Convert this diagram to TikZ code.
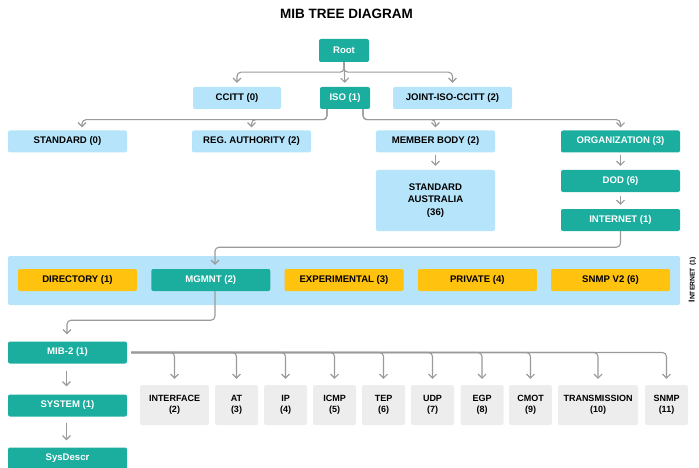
\documentclass[tikz,border=0pt]{standalone}
\usepackage{fontspec}
\setmainfont{Liberation Sans}
\usetikzlibrary{arrows.meta}
\definecolor{teal1}{HTML}{1BAE9F}
\definecolor{sky1}{HTML}{B6E5FB}
\definecolor{amber1}{HTML}{FFC20E}
\definecolor{gray1}{HTML}{EDEDED}
\definecolor{wire}{HTML}{9A9A9A}
\tikzset{
  box/.style={rectangle, rounded corners=2pt, inner sep=0pt, align=center,
    font=\bfseries\fontsize{9.6}{12.5}\selectfont},
  tealbox/.style={box, fill=teal1, text=white},
  skybox/.style={box, fill=sky1, text=black},
  amberbox/.style={box, fill=amber1, text=black, minimum width=119pt, minimum height=22pt},
  leafbox/.style={box, fill=gray1, text=black, minimum height=40pt,
    font=\bfseries\fontsize{9}{11.5}\selectfont},
  wide/.style={minimum width=119pt, minimum height=22pt},
  link/.style={draw=wire, line width=1.1pt, rounded corners=4pt,
    -{Straight Barb[length=4pt,width=8pt,line width=1.1pt]}, shorten >=4pt}
}
\begin{document}
\begin{tikzpicture}[x=1pt,y=-1pt]
\useasboundingbox (0,0) rectangle (699,468);

% title
\node[font=\bfseries\fontsize{13.5}{16}\selectfont] (title) at (346.5,13.5) {MIB TREE DIAGRAM};

% top levels
\node[tealbox, minimum width=50pt, minimum height=23pt] (root) at (344,50.5) {Root};
\node[skybox, minimum width=88pt, minimum height=22pt] (ccitt) at (237,98) {CCITT (0)};
\node[tealbox, minimum width=50pt, minimum height=22pt] (iso) at (345,98) {ISO (1)};
\node[skybox, minimum width=119pt, minimum height=22pt] (joint) at (452.5,98) {JOINT-ISO-CCITT (2)};

\node[skybox, wide] (standard) at (67.5,141.5) {STANDARD (0)};
\node[skybox, wide] (reg) at (251.5,141.5) {REG. AUTHORITY (2)};
\node[skybox, wide] (member) at (435.5,141.5) {MEMBER BODY (2)};
\node[tealbox, wide] (org) at (620.5,141.5) {ORGANIZATION (3)};

\node[skybox, minimum width=119pt, minimum height=61pt] (sa) at (435.5,200.5) {STANDARD\\AUSTRALIA\\(36)};
\node[tealbox, wide] (dod) at (620.5,181) {DOD (6)};
\node[tealbox, wide] (internet) at (620.5,220) {INTERNET (1)};

% internet subtree band
\node[fill=sky1, rounded corners=2pt, minimum width=672pt, minimum height=49pt, inner sep=0pt] (band) at (344,280.5) {};
\node[amberbox] (directory) at (77.5,280) {DIRECTORY (1)};
\node[tealbox, wide] (mgmnt) at (210.8,280) {MGMNT (2)};
\node[amberbox] (experimental) at (344,280) {EXPERIMENTAL (3)};
\node[amberbox] (private) at (477.3,280) {PRIVATE (4)};
\node[amberbox] (snmpv2) at (610.5,280) {SNMP V2 (6)};
\node[rotate=90, font=\bfseries, inner sep=0pt] (bandlabel) at (692.5,280)
  {{\fontsize{8.5}{8}\selectfont I}{\fontsize{6.8}{8}\selectfont NTERNET (1)}};

% mib-2 subtree
\node[tealbox, wide] (mib) at (67.5,352.5) {MIB-2 (1)};
\node[tealbox, wide] (system) at (67.5,405.5) {SYSTEM (1)};
\node[tealbox, wide] (sysdescr) at (67.5,458.5) {SysDescr};

\node[leafbox, minimum width=69pt] (interface) at (174.5,405) {INTERFACE\\(2)};
\node[leafbox, minimum width=43pt] (at) at (236.5,405) {AT\\(3)};
\node[leafbox, minimum width=43pt] (ip) at (285.5,405) {IP\\(4)};
\node[leafbox, minimum width=43pt] (icmp) at (334.5,405) {ICMP\\(5)};
\node[leafbox, minimum width=43pt] (tep) at (383.5,405) {TEP\\(6)};
\node[leafbox, minimum width=43pt] (udp) at (432.5,405) {UDP\\(7)};
\node[leafbox, minimum width=43pt] (egp) at (482,405) {EGP\\(8)};
\node[leafbox, minimum width=43pt] (cmot) at (530.5,405) {CMOT\\(9)};
\node[leafbox, minimum width=80pt] (transmission) at (598,405) {TRANSMISSION\\(10)};
\node[leafbox, minimum width=43pt] (snmp) at (666.5,405) {SNMP\\(11)};

% connectors
\draw[link] (root.south) -- ++(0,10) -| (ccitt.north);
\draw[link] (root.south) -- (iso.north);
\draw[link] (root.south) -- ++(0,10) -| (joint.north);

\draw[link, shorten >=3pt] ([xshift=-18pt]iso.south) -- ++(0,10.5) -| ([xshift=14.5pt]standard.north);
\draw[link, shorten >=3pt] ([xshift=-18pt]iso.south) -- ++(0,10.5) -| (reg.north);
\draw[link, shorten >=3pt] ([xshift=18pt]iso.south) -- ++(0,10.5) -| (member.north);
\draw[link, shorten >=3pt] ([xshift=18pt]iso.south) -- ++(0,10.5) -| (org.north);

\draw[link, shorten <=2pt] (member.south) -- (sa.north);
\draw[link, shorten <=2pt] (org.south) -- (dod.north);
\draw[link, shorten <=4pt] (dod.south) -- (internet.north);

\draw[link] (internet.south) -- ++(0,16) -| ([xshift=4.2pt]mgmnt.north);
\draw[link, shorten >=7pt] ([xshift=4.2pt]mgmnt.south) -- ++(0,29) -| ([xshift=-0.5pt]mib.north);

\draw[link, shorten <=7pt, shorten >=8pt] ([xshift=-1pt]mib.south) -- ([xshift=-1pt]system.north);
\draw[link, shorten <=6pt, shorten >=7pt] ([xshift=-1pt]system.south) -- ([xshift=-1pt]sysdescr.north);

\foreach \leaf in {interface,at,ip,icmp,tep,udp,egp,cmot,transmission,snmp}
  \draw[link, shorten >=6pt] ([xshift=4pt]mib.east) -| (\leaf.north);
\end{tikzpicture}
\end{document}
